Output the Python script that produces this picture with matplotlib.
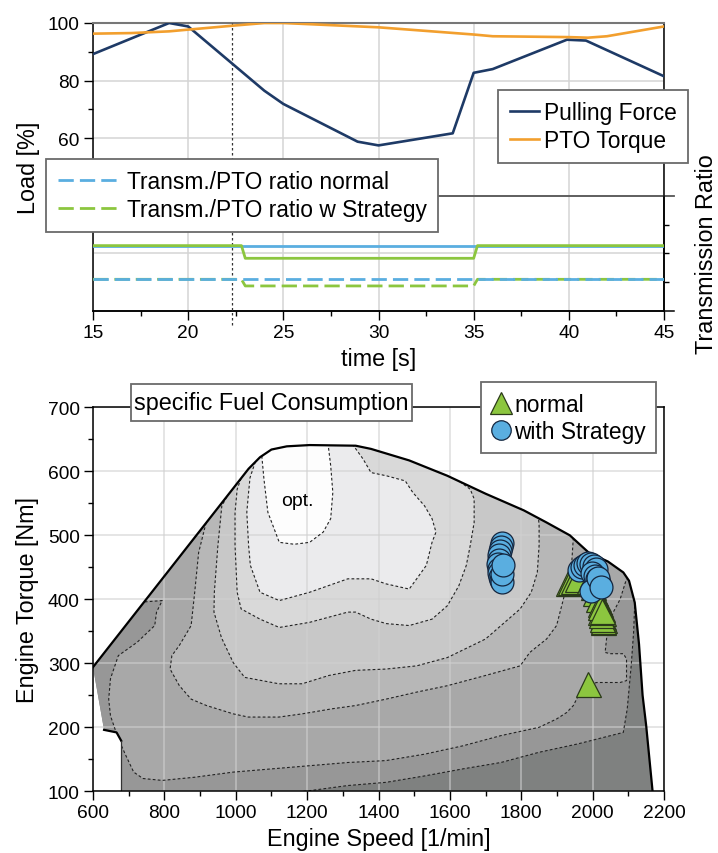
import matplotlib
matplotlib.use('Agg')
import matplotlib.pyplot as plt
from matplotlib.patches import Polygon, Rectangle

plt.rcParams['font.family'] = ['Liberation Sans', 'DejaVu Sans']

# ---------------- top chart data ----------------
time_pf = [15, 19, 20, 24, 25, 28.9, 30, 33.9, 35, 36, 39.9, 40.9, 45]
pulling_force = [89.2, 100, 98.8, 76.5, 71.9, 58.8, 57.5, 61.7, 82.7, 84.0, 94.2, 93.9, 81.5]
time_pto = [15, 17, 19, 20, 22.4, 24, 25, 30, 35, 36, 40, 41, 42, 45]
pto_torque = [96.3, 96.5, 97.1, 97.7, 99.1, 100, 100, 98.5, 96.0, 95.4, 95.1, 94.9, 95.4, 98.8]
time_ratio = [15, 22.8, 23.0, 35.0, 35.2, 45]
transm_normal = [2.27, 2.27, 2.27, 2.27, 2.27, 2.27]
transm_strategy = [2.27, 2.27, 1.83, 1.83, 2.27, 2.27]
pto_ratio_normal = [1.10, 1.10, 1.10, 1.10, 1.10, 1.10]
pto_ratio_strategy = [1.10, 1.10, 0.87, 0.87, 1.10, 1.10]
switch_time = 22.3

# ---------------- bottom chart data ----------------
full_load_speed = [600, 1036, 1068, 1100, 1143, 1207, 1336, 1379, 1486, 1593, 1700, 1807,
                   1871, 1936, 1989, 2043, 2086, 2102, 2118, 2130, 2140, 2150, 2168]
full_load_torque = [294, 604, 622, 634, 639, 641, 640, 635, 617, 593, 565, 539,
                    520, 500, 473, 459, 442, 429, 395, 330, 250, 203, 100]
notch_speed = [631, 666, 679, 679]
notch_torque = [196, 192, 179, 100]

c1_speed = [1073, 1079, 1090, 1122, 1164, 1207, 1245, 1266, 1272, 1266, 1259]
c1_torque = [624, 588, 536, 489, 486, 489, 505, 526, 567, 609, 641]
c2_speed = [1055, 1040, 1036, 1031, 1036, 1041, 1068, 1122, 1207, 1314, 1379, 1422, 1486,
            1507, 1534, 1550, 1561, 1550, 1529, 1496, 1475, 1422, 1379, 1357, 1330]
c2_torque = [615, 590, 567, 536, 484, 453, 411, 398, 411, 432, 432, 424, 416,
             432, 453, 489, 505, 526, 546, 567, 585, 593, 598, 619, 640]
c3_speed = [1015, 1004, 998, 998, 1004, 1015, 1068, 1122, 1207, 1314, 1336, 1379, 1422, 1486,
            1550, 1593, 1625, 1646, 1657, 1668, 1668, 1657, 1625]
c3_torque = [589, 572, 536, 484, 411, 385, 369, 356, 364, 380, 380, 369, 362, 359,
             369, 390, 421, 453, 484, 520, 557, 572, 585]
c4_speed = [975, 961, 950, 940, 939, 960, 993, 1025, 1121, 1186, 1261, 1336, 1421, 1507,
            1593, 1700, 1797, 1828, 1845, 1850, 1850, 1848]
c4_torque = [560, 546, 484, 411, 380, 340, 301, 278, 268, 268, 281, 289, 291, 296,
             309, 338, 385, 411, 442, 484, 515, 530]
c5_speed = [917, 896, 885, 875, 842, 821, 816, 842, 875, 918, 993, 1035, 1121, 1186, 1271, 1336,
            1421, 1507, 1593, 1700, 1797, 1824, 1871, 1899, 1918, 1927, 1941, 1946]
c5_torque = [520, 473, 411, 359, 328, 312, 291, 265, 244, 234, 221, 216, 216, 221, 229, 234,
             244, 255, 265, 281, 296, 317, 338, 359, 400, 421, 453, 497]
c6_speed = [745, 794, 778, 773, 724, 671, 649, 644, 649, 671, 692, 714, 740, 794, 885, 993,
            1207, 1314, 1421, 1529, 1636, 1743, 1850, 1899, 1927, 1946, 1965, 1983, 2011,
            2077, 2095, 2095, 2086, 2049, 2035, 2039, 2044, 2058, 2077, 2095]
c6_torque = [396, 398, 380, 359, 333, 312, 276, 244, 218, 182, 156, 130, 120, 117, 122, 130,
             140, 145, 148, 158, 171, 187, 200, 213, 223, 234, 255, 265, 270,
             270, 273, 307, 315, 315, 317, 338, 359, 380, 400, 432]
c7_speed = [1190, 1207, 1314, 1421, 1529, 1636, 1743, 1850, 1958, 2086, 2097, 2108, 2115, 2118]
c7_torque = [100, 101, 109, 114, 124, 135, 145, 161, 174, 192, 229, 296, 350, 395]
opt_label = (1173, 554)

normal_speed = [1930, 1938, 1946, 1955, 1990, 2000, 2008, 2016, 2022, 2026, 2028, 2030, 2031,
                2030, 2028, 2026, 2024, 2022, 1988, 2020, 2025]
normal_torque = [425, 427, 429, 431, 428, 420, 410, 400, 392, 385, 378, 372, 367,
                 364, 366, 370, 375, 380, 268, 388, 382]
strategy_speed = [1962, 1970, 1978, 1986, 1995, 2003, 2010, 1745, 1742, 1740, 1738, 1737, 1736,
                  1737, 1739, 1741, 1743, 1745, 1747, 1749, 1998, 2006, 2013, 2018, 1996, 2016, 2023]
strategy_torque = [446, 450, 454, 456, 455, 452, 447, 488, 482, 476, 470, 462, 455,
                   448, 441, 435, 430, 427, 440, 453, 441, 436, 431, 425, 413, 433, 420]

# ---------------- styles ----------------
NAVY = '#1e3a66'
ORANGE = '#f29f2e'
BLUE = '#5aaee0'
GREEN = '#8cc63f'
FRAME = '#6a6a6a'
GRID = '#d4d4d4'
BIG = 16.8
LEG = 16.4
TICK = 13.8

fig = plt.figure(figsize=(7.18, 8.54), dpi=100)
W, H = 718.0, 854.0

# ================= top chart =================
ax1 = fig.add_axes([93 / W, 1 - 312 / H, 571 / W, 288 / H])
ax1.set_xlim(15, 45)
ax1.set_ylim(0, 100)
ax1.plot(time_pf, pulling_force, color=NAVY, lw=1.9, label='Pulling Force', zorder=3)
ax1.plot(time_pto, pto_torque, color=ORANGE, lw=1.9, label='PTO Torque', zorder=3)
ax1.axvline(switch_time, ymin=-0.05, ymax=1, color='#333333', lw=0.9, ls=(0, (2, 2)),
            clip_on=False, zorder=2.6)
ax1.set_xticks(range(15, 46, 5))
ax1.set_xticks([17.5, 22.5, 27.5, 32.5, 37.5, 42.5], minor=True)
ax1.set_yticks([60, 80, 100])
ax1.set_yticks([70, 90], minor=True)
ax1.set_axisbelow(True)
ax1.grid(True, which='major', color=GRID, lw=1.1)
for lev in (20, 40):
    ax1.axhline(lev, color=GRID, lw=1.1, zorder=0.5)
ax1.tick_params(axis='both', which='major', direction='out', length=6.5, width=1,
                labelsize=TICK, pad=3)
ax1.tick_params(axis='both', which='minor', direction='out', length=3.5, width=1)
ax1.spines['top'].set_color('#777777')
ax1.spines['top'].set_linewidth(1.5)
for s in ('left', 'bottom', 'right'):
    ax1.spines[s].set_color('black')
    ax1.spines[s].set_linewidth(1.1)
ax1.plot([0, 1.017], [0, 0], transform=ax1.transAxes, color='black', lw=1.1, clip_on=False)
ax1.set_xlabel('time [s]', fontsize=BIG, labelpad=4)
ax1.set_ylabel('Load [%]', fontsize=BIG, labelpad=6)
leg1 = ax1.legend(loc='upper right', bbox_to_anchor=(1.042, 0.768), fontsize=LEG,
                  frameon=True, fancybox=False, framealpha=1, edgecolor=FRAME,
                  handlelength=1.3, handletextpad=0.2, labelspacing=0.2,
                  borderpad=0.5, borderaxespad=0)
leg1.get_frame().set_linewidth(1.3)
leg1.set_zorder(10)

# ratio axes (lower part)
axr = fig.add_axes([93 / W, 1 - 312 / H, 571 / W, 115.2 / H])
axr.set_facecolor('none')
axr.set_xlim(15, 45)
axr.set_ylim(0, 4)
axr.plot(time_ratio, transm_normal, color=BLUE, lw=2.0, zorder=3)
axr.plot(time_ratio, transm_strategy, color=GREEN, lw=2.0, zorder=3.1)
axr.plot(time_ratio, pto_ratio_strategy, color=GREEN, lw=2.0, dashes=(5.5, 2.2), zorder=3,
         label='Transm./PTO ratio w Strategy')
axr.plot(time_ratio, pto_ratio_normal, color=BLUE, lw=2.0, dashes=(5.5, 2.2), zorder=3.1,
         label='Transm./PTO ratio normal')
for s in ('left', 'bottom', 'top'):
    axr.spines[s].set_visible(False)
axr.spines['right'].set_color('black')
axr.spines['right'].set_linewidth(1.1)
axr.plot([0, 1.017], [1, 1], transform=axr.transAxes, color='#555555', lw=1.3, clip_on=False)
axr.set_xticks([])
axr.yaxis.tick_right()
axr.set_yticks([1, 2, 3])
axr.set_yticklabels([])
axr.tick_params(axis='y', direction='out', length=3.6, width=1)
axr.yaxis.set_label_position('right')
axr.set_ylabel('Transmission Ratio', fontsize=BIG, labelpad=15)
hnd, lab = axr.get_legend_handles_labels()
leg2 = axr.legend(hnd[::-1], lab[::-1], loc='upper left', bbox_to_anchor=(-0.082, 1.32),
                  fontsize=LEG, frameon=True, fancybox=False, framealpha=1, edgecolor=FRAME,
                  handlelength=2.8, handletextpad=0.25, labelspacing=0.2,
                  borderpad=0.5, borderaxespad=0)
leg2.get_frame().set_linewidth(1.3)
leg2.set_zorder(10)

# ================= bottom chart =================
ax2 = fig.add_axes([93 / W, 1 - 792.3 / H, 571 / W, 384 / H])
ax2.set_xlim(600, 2200)
ax2.set_ylim(100, 700)

map_pts = list(zip(full_load_speed, full_load_torque)) + [(2170, 60), (679, 60)] + \
    list(zip(notch_speed[::-1], notch_torque[::-1]))[1:]
map_patch = Polygon(map_pts, closed=True, facecolor='#7f8180', edgecolor='none', zorder=1)
ax2.add_patch(map_patch)


def above(xs, ys, top=900):
    return list(zip(xs, ys)) + [(xs[-1], top), (xs[0], top)]


def upper_left(xs, ys):
    return list(zip(xs, ys)) + [(xs[-1], 900), (300, 900), (300, 0), (xs[0], 0)]


bands = [
    (upper_left(c7_speed, c7_torque), '#979797'),
    (above(c6_speed, c6_torque), '#a8a8a8'),
    (above(c5_speed, c5_torque), '#b7b7b7'),
    (above(c4_speed, c4_torque), '#c8c8c8'),
    (above(c3_speed, c3_torque), '#d9d9d9'),
    (above(c2_speed, c2_torque), '#ebebed'),
    (above(c1_speed, c1_torque), '#fdfdfd'),
]
for pts, col in bands:
    p = Polygon(pts, closed=True, facecolor=col, edgecolor='none', zorder=1.1)
    ax2.add_patch(p)
    p.set_clip_path(map_patch)

for xs, ys in [(c1_speed, c1_torque), (c2_speed, c2_torque), (c3_speed, c3_torque),
               (c4_speed, c4_torque), (c5_speed, c5_torque), (c6_speed, c6_torque),
               (c7_speed, c7_torque)]:
    ln, = ax2.plot(xs, ys, color='#222222', lw=0.8, ls=(0, (2.5, 2)), zorder=2)
    ln.set_clip_path(map_patch)

ax2.plot(full_load_speed, full_load_torque, color='black', lw=1.6, zorder=2.2,
         solid_joinstyle='round')
ax2.plot(notch_speed[:3], notch_torque[:3], color='black', lw=1.6, zorder=2.2)
ax2.plot(notch_speed[2:], notch_torque[2:], color='#333333', lw=0.9, zorder=2.2)
ax2.text(opt_label[0], opt_label[1], 'opt.', fontsize=14, ha='center', va='center', zorder=4)

ax2.plot(normal_speed, normal_torque, ls='none', marker='^', ms=18, mfc=GREEN,
         mec='#2b3a1a', mew=0.9, zorder=3, label='normal')
ax2.plot(strategy_speed, strategy_torque, ls='none', marker='o', ms=16.5, mfc=BLUE,
         mec='#14263f', mew=0.9, zorder=3.2, label='with Strategy')

ax2.set_xticks(range(600, 2201, 200))
ax2.set_xticks(range(700, 2200, 200), minor=True)
ax2.set_yticks(range(100, 701, 100))
ax2.set_yticks(range(150, 700, 100), minor=True)
ax2.set_axisbelow('line')
ax2.grid(True, which='major', color='#d0d0d0', lw=1.1, alpha=0.7)
ax2.tick_params(axis='both', which='major', direction='out', length=6.5, width=1,
                labelsize=TICK, pad=3)
ax2.tick_params(axis='both', which='minor', direction='out', length=3.5, width=1)
for s in ax2.spines.values():
    s.set_color('black')
    s.set_linewidth(1.1)
ax2.set_xlabel('Engine Speed [1/min]', fontsize=BIG, labelpad=4)
ax2.set_ylabel('Engine Torque [Nm]', fontsize=BIG, labelpad=6)

# title box of the map
ax2.add_patch(Rectangle((0.0665, 0.9651), 0.4927, 0.0956, transform=ax2.transAxes,
                        facecolor='white', edgecolor=FRAME, lw=1.3, clip_on=False, zorder=9))
ax2.text(0.3128, 1.013, 'specific Fuel Consumption', transform=ax2.transAxes, fontsize=BIG,
         ha='center', va='center', zorder=10)
leg3 = ax2.legend(loc='upper right', bbox_to_anchor=(0.986, 1.065), fontsize=LEG,
                  frameon=True, fancybox=False, framealpha=1, edgecolor=FRAME,
                  handlelength=0.85, handletextpad=0.15, labelspacing=0.2,
                  borderpad=0.45, borderaxespad=0, markerscale=0.85)
leg3.get_frame().set_linewidth(1.3)
leg3.set_zorder(10)

fig.savefig('out.png', dpi=100, facecolor='white')
